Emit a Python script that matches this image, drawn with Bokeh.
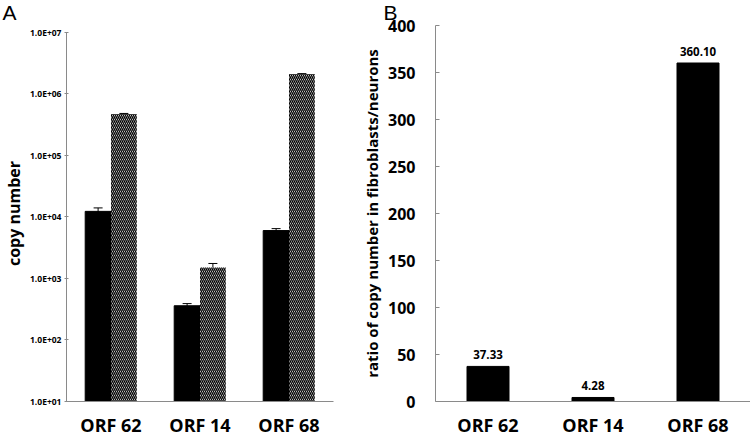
from bokeh.plotting import figure
from bokeh.models import (ColumnDataSource, FactorRange, FixedTicker, Whisker,
                          LabelSet, Range1d, TeeHead, Title)
from bokeh.transform import dodge
from bokeh.layouts import row
from bokeh.embed import file_html
from bokeh.resources import INLINE
from bokeh.core.properties import value

# ---------------- data ----------------
categories = ["ORF 62", "ORF 14", "ORF 68"]

# Panel A: copy number (log scale)
neurons_copy = [12300, 360, 6000]
neurons_err = [1700, 30, 450]
fibro_copy = [470000, 1500, 2100000]
fibro_err = [10000, 250, 30000]

log_ticks = [1e1, 1e2, 1e3, 1e4, 1e5, 1e6, 1e7]
log_tick_labels = ["1.0E+01", "1.0E+02", "1.0E+03", "1.0E+04",
                   "1.0E+05", "1.0E+06", "1.0E+07"]

# Panel B: ratio fibroblasts / neurons
ratio_values = [37.33, 4.28, 360.10]
ratio_ticks = [0, 50, 100, 150, 200, 250, 300, 350, 400]

FONT = "Open Sans"
AXIS_GREY = "#8a8a8a"
A_RANGE_TOP = 1.29e7   # a little head-room above the 1.0E+07 axis end

# ---------------- panel A ----------------
pA = figure(width=358, height=439, x_range=FactorRange(*categories, range_padding=0),
            y_range=Range1d(10, A_RANGE_TOP), y_axis_type="log",
            output_backend="svg", toolbar_location=None,
            min_border_left=62, min_border_right=25, min_border_top=18,
            min_border_bottom=31)
pA.add_layout(Title(text="A", align="left", offset=-64, standoff=0,
                    vertical_align="top",
                    text_font="Liberation Sans", text_font_size="21px",
                    text_font_style="normal", text_color="black"), "above")

srcA = ColumnDataSource(dict(
    cat=categories,
    n=neurons_copy,
    n_up=[v + e for v, e in zip(neurons_copy, neurons_err)],
    n_lo=[v - e for v, e in zip(neurons_copy, neurons_err)],
    f=fibro_copy,
    f_up=[v + e for v, e in zip(fibro_copy, fibro_err)],
    f_lo=[v - e for v, e in zip(fibro_copy, fibro_err)],
))

bw = 0.29
pA.vbar(x=dodge("cat", -bw / 2, range=pA.x_range), top="n", bottom=10, width=bw,
        source=srcA, fill_color="black", line_color="black")
pA.vbar(x=dodge("cat", bw / 2, range=pA.x_range), top="f", bottom=10, width=bw,
        source=srcA, fill_color="white", line_color=None,
        hatch_pattern="\\", hatch_color="black", hatch_scale=4, hatch_weight=1.4)

for xoff, up, lo in [(-bw / 2, "n_up", "n_lo"), (bw / 2, "f_up", "f_lo")]:
    w = Whisker(base=dodge("cat", xoff, range=pA.x_range), upper=up, lower=lo,
                source=srcA, line_color="black", line_width=1,
                upper_head=TeeHead(size=9, line_color="black"),
                lower_head=TeeHead(size=9, line_color="black"))
    pA.add_layout(w)

pA.yaxis.ticker = FixedTicker(ticks=log_ticks)
pA.yaxis.bounds = (log_ticks[0], log_ticks[-1])
pA.yaxis.major_label_overrides = {t: l for t, l in zip(log_ticks, log_tick_labels)}
pA.yaxis.axis_label = "copy number"
pA.yaxis.axis_label_text_font = FONT
pA.yaxis.axis_label_text_font_size = "16px"
pA.yaxis.axis_label_text_font_style = "bold"
pA.yaxis.axis_label_standoff = 2
pA.yaxis.major_label_text_font = FONT
pA.yaxis.major_label_text_font_size = "8.5px"
pA.yaxis.major_label_text_font_style = "bold"
pA.yaxis.major_label_standoff = 3
pA.yaxis.major_tick_in = 2
pA.yaxis.major_tick_out = 2
pA.yaxis.minor_tick_line_color = None

# ---------------- panel B ----------------
pB = figure(width=392, height=439, x_range=FactorRange(*categories, range_padding=0),
            y_range=Range1d(0, 400),
            output_backend="svg", toolbar_location=None,
            min_border_left=77, min_border_right=0, min_border_top=18,
            min_border_bottom=31)
pB.add_layout(Title(text="B", align="left", offset=-52, standoff=0,
                    vertical_align="top",
                    text_font="Liberation Sans", text_font_size="21px",
                    text_font_style="normal", text_color="black"), "above")

srcB = ColumnDataSource(dict(cat=categories, r=ratio_values,
                             lab=[f"{v:.2f}" for v in ratio_values]))
pB.vbar(x="cat", top="r", width=0.4, source=srcB, fill_color="black", line_color="black")
pB.add_layout(LabelSet(x="cat", y="r", text="lab", source=srcB, text_align="center",
                       text_baseline="bottom", y_offset=7, text_font=value(FONT),
                       text_font_size="11.5px", text_font_style="bold",
                       text_color="black"))

pB.yaxis.ticker = FixedTicker(ticks=ratio_ticks)
pB.yaxis.axis_label = "ratio of copy number in fibroblasts/neurons"
pB.yaxis.axis_label_text_font = FONT
pB.yaxis.axis_label_text_font_size = "15px"
pB.yaxis.axis_label_text_font_style = "bold"
pB.yaxis.axis_label_standoff = 3
pB.yaxis.major_label_text_font = FONT
pB.yaxis.major_label_text_font_size = "16px"
pB.yaxis.major_label_text_font_style = "bold"
pB.yaxis.major_label_standoff = 20
pB.yaxis.major_tick_in = 4
pB.yaxis.major_tick_out = 0
pB.yaxis.minor_tick_line_color = None

for p in (pA, pB):
    p.xgrid.grid_line_color = None
    p.ygrid.grid_line_color = None
    p.outline_line_color = None
    p.background_fill_color = "white"
    p.border_fill_color = "white"
    for ax in (p.xaxis, p.yaxis):
        ax.axis_line_color = AXIS_GREY
        ax.major_tick_line_color = AXIS_GREY
        ax.major_label_text_color = "black"
        ax.axis_label_text_color = "black"
    p.xaxis.major_tick_line_color = None
    p.xaxis.major_label_text_font = FONT
    p.xaxis.major_label_text_font_size = "18px"
    p.xaxis.major_label_text_font_style = "bold"
    p.xaxis.major_label_standoff = 5

layout = row(pA, pB)
open("out.html", "w").write(file_html(layout, INLINE))
